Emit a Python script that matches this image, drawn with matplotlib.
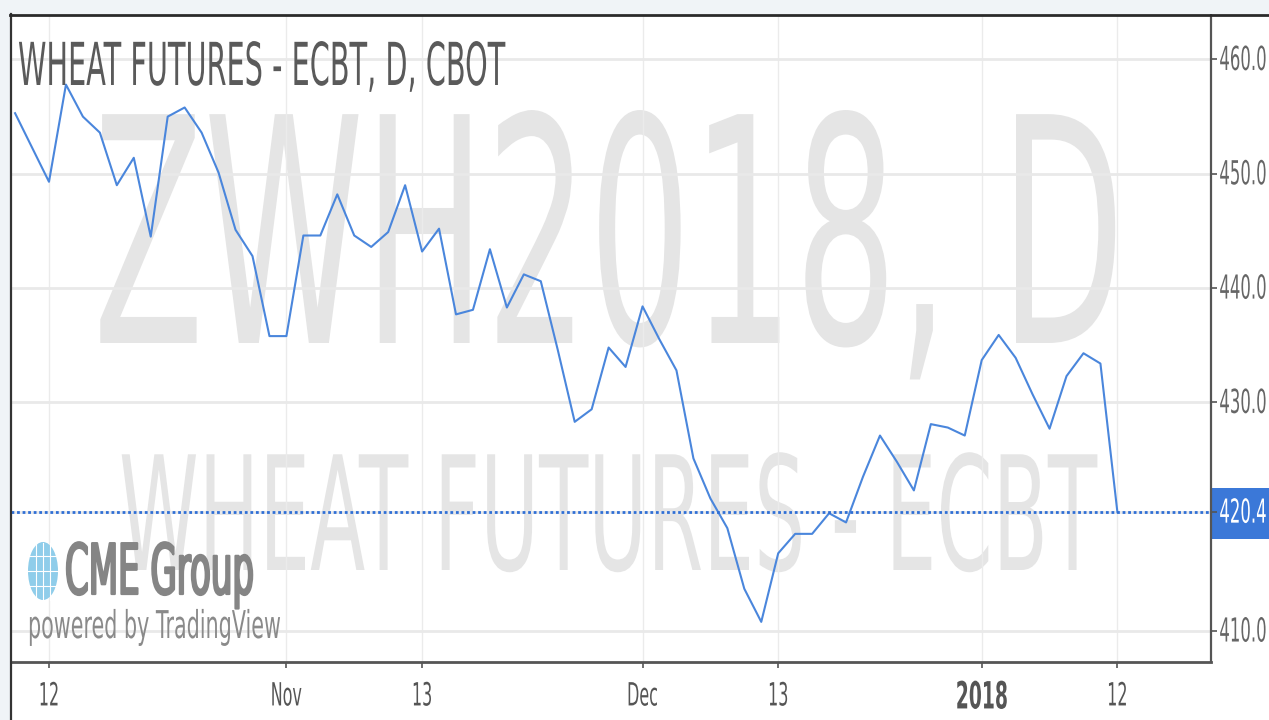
import matplotlib
matplotlib.use('Agg')
import matplotlib.pyplot as plt
import matplotlib.patheffects as pe
from matplotlib.patches import Rectangle, Ellipse
from matplotlib.lines import Line2D
from matplotlib.transforms import Affine2D

# Daily closes
prices = [455.3, 452.3, 449.3, 457.8, 455.0, 453.6, 449.0, 451.4, 444.5, 455.0, 455.8,
          453.6, 450.1, 445.1, 442.8, 435.8, 435.8, 444.6, 444.6, 448.2, 444.6, 443.6,
          444.9, 449.0, 443.2, 445.2, 437.7, 438.1, 443.4, 438.3, 441.2, 440.6, 434.6,
          428.3, 429.4, 434.8, 433.1, 438.4, 435.5, 432.8, 425.1, 421.6, 419.0, 413.7,
          410.8, 416.8, 418.5, 418.5, 420.3, 419.5, 423.5, 427.1, 424.8, 422.3, 428.1,
          427.8, 427.1, 433.7, 435.9, 433.9, 430.7, 427.7, 432.3, 434.3, 433.4, 420.4]
last_price = 420.4

x_tick_pos = [2, 16, 24, 37, 45, 57, 65]
x_tick_labels = ['12', 'Nov', '13', 'Dec', '13', '2018', '12']
y_ticks = [410, 420.4, 430, 440, 450, 460]
y_tick_labels = ['410.0', '420.4', '430.0', '440.0', '450.0', '460.0']

title = 'WHEAT FUTURES - ECBT, D, CBOT'
watermark_1 = 'ZWH2018, D'
watermark_2 = 'WHEAT FUTURES - ECBT'


# The source image was stretched upwards, so glyphs get stretched the same way
class StretchY(pe.AbstractPathEffect):
    def __init__(self, k=2.0, dy=0, stroke=0):
        self.k = k
        self.dy = dy
        self.stroke = stroke

    def draw_path(self, renderer, gc, tpath, affine, rgbFace=None):
        y0 = affine.transform_point((0, 0))[1]
        t = affine + Affine2D().translate(0, -y0).scale(1, self.k).translate(0, y0 + self.dy)
        gc0 = renderer.new_gc()
        gc0.copy_properties(gc)
        if self.stroke:
            gc0.set_linewidth(self.stroke)
            gc0.set_foreground(rgbFace)
        renderer.draw_path(gc0, tpath, t, rgbFace)
        gc0.restore()


fig = plt.figure(figsize=(12.69, 7.2), dpi=100, facecolor='white')
ax = fig.add_axes([11 / 1269, 58 / 720, 1200 / 1269, 647 / 720])

# pixel coords of the reference, origin top left
px = Affine2D().scale(1 / 1269, -1 / 720).translate(0, 1) + fig.transFigure

# page background strips
fig.patches.append(Rectangle((0, 0), 1269, 14, transform=px, color='#f0f4f7', lw=0))
fig.patches.append(Rectangle((0, 0), 10, 720, transform=px, color='#f0f4f7', lw=0))
fig.lines.append(Line2D([10.5, 10.5], [14, 720], transform=px, color='#333333', lw=1.6))
fig.lines.append(Line2D([10, 1269], [14.5, 14.5], transform=px, color='#2a2a2a', lw=2))

ax.plot(range(len(prices)), prices, color='#4a86dc', lw=1.5, zorder=3)
ax.axhline(last_price, color='#2f6fd6', lw=2, ls=(0, (1, 1)), zorder=3)

ax.set_xlim(-0.24, 70.52)
ax.set_ylim(407.29, 463.89)

ax.set_axisbelow(True)
ax.set_xticks(x_tick_pos)
ax.set_xticklabels(x_tick_labels)
ax.set_yticks(y_ticks)
ax.set_yticklabels(y_tick_labels)
ax.yaxis.tick_right()
ax.grid(axis='y', color='#e9e9e9', lw=2)
ax.grid(axis='x', color='#ebebeb', lw=1)
ax.tick_params(axis='x', length=4, width=1.2, color='#555555', labelcolor='#555555',
               labelsize=11.5, pad=10)
ax.tick_params(axis='y', length=4, width=1.2, color='#555555', labelcolor='#666666',
               labelsize=11.9, pad=2)

for lab in ax.get_xticklabels():
    lab.set_path_effects([StretchY(2.0, -12)])
    if lab.get_text() == '2018':
        lab.set_fontweight('bold')
        lab.set_fontsize(13.5)
for lab in ax.get_yticklabels():
    lab.set_path_effects([StretchY(2.0, -3.5)])
    if lab.get_text() == '420.4':
        lab.set_color('white')

for name in ['left', 'top']:
    ax.spines[name].set_visible(False)
ax.spines['right'].set_color('#555555')
ax.spines['right'].set_linewidth(1.6)
ax.spines['bottom'].set_color('#555555')
ax.spines['bottom'].set_linewidth(2)

# price tag behind the last value label
ax.add_patch(Rectangle((1211, 488), 58, 51, transform=px, color='#3b78d8', lw=0,
                       clip_on=False, zorder=0.4))

# watermarks
ax.text(93, 343, watermark_1, transform=px, fontsize=116.5, color='#e5e5e5', zorder=0.3,
        path_effects=[StretchY(1.94)], va='baseline', ha='left', clip_on=False)
ax.text(119, 570, watermark_2, transform=px, fontsize=58, color='#e5e5e5', zorder=0.3,
        path_effects=[StretchY(1.97)], va='baseline', ha='left', clip_on=False)

# chart title
ax.text(18, 85, title, transform=px, fontsize=20.7, color='#5a5a5a', zorder=4,
        path_effects=[StretchY(2.06)], va='baseline', ha='left')

# logo
ax.add_patch(Ellipse((43, 571), 30, 58, transform=px, color='#8fcdea', lw=0, zorder=4))
for gy in [556, 571, 586]:
    ax.add_line(Line2D([28, 58], [gy, gy], transform=px, color='white', lw=0.8, zorder=4.1))
for gx in [36, 43, 50]:
    ax.add_line(Line2D([gx, gx], [543, 600], transform=px, color='white', lw=0.8, zorder=4.1))
ax.text(65, 594, 'CME Group', transform=px, fontsize=24.5, color='#858585', zorder=4,
        path_effects=[StretchY(2.05, stroke=1.6)], va='baseline', ha='left')
ax.text(28, 638, 'powered by TradingView', transform=px, fontsize=14.9, color='#8a8a8a', zorder=4,
        path_effects=[StretchY(1.85)], va='baseline', ha='left')

fig.savefig('out.png', dpi=100)
